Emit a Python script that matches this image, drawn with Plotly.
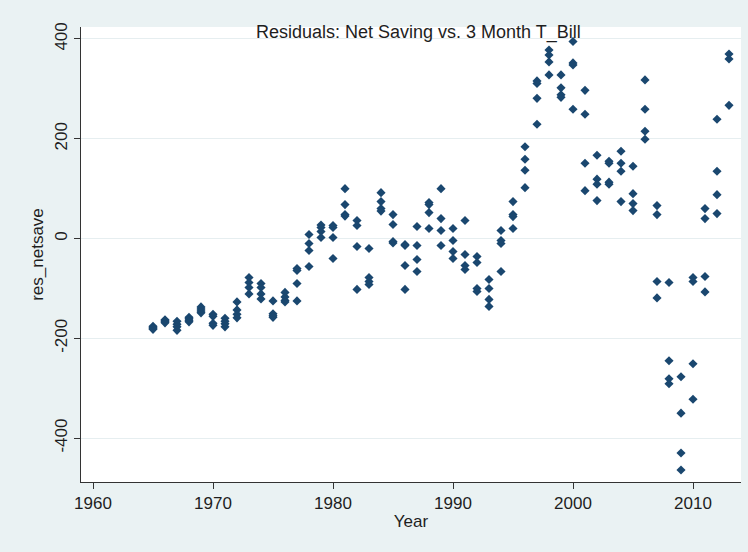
import plotly.graph_objects as go

# Quarterly residuals from the net saving regression, grouped by year
year = (
    [1965] * 4 + [1966] * 4 + [1967] * 4 + [1968] * 4 + [1969] * 4 +
    [1970] * 4 + [1971] * 4 + [1972] * 4 + [1973] * 4 + [1974] * 4 +
    [1975] * 4 + [1976] * 4 + [1977] * 4 + [1978] * 4 + [1979] * 4 +
    [1980] * 4 + [1981] * 4 + [1982] * 4 + [1983] * 4 + [1984] * 4 +
    [1985] * 4 + [1986] * 4 + [1987] * 4 + [1988] * 4 + [1989] * 4 +
    [1990] * 4 + [1991] * 4 + [1992] * 4 + [1993] * 4 + [1994] * 4 +
    [1995] * 4 + [1996] * 4 + [1997] * 4 + [1998] * 4 + [1999] * 4 +
    [2000] * 4 + [2001] * 4 + [2002] * 4 + [2003] * 4 + [2004] * 4 +
    [2005] * 4 + [2006] * 4 + [2007] * 4 + [2008] * 4 + [2009] * 4 +
    [2010] * 4 + [2011] * 4 + [2012] * 4 + [2013] * 3
)

res_netsave = [
    -176, -178, -180, -182,   # 1965
    -163, -165, -167, -169,   # 1966
    -166, -172, -177, -184,   # 1967
    -158, -161, -164, -167,   # 1968
    -137, -141, -145, -149,   # 1969
    -152, -156, -170, -174,   # 1970
    -160, -166, -171, -177,   # 1971
    -127, -143, -152, -159,   # 1972
    -78, -88, -98, -111,      # 1973
    -90, -98, -111, -121,     # 1974
    -125, -151, -155, -158,   # 1975
    -108, -117, -124, -127,   # 1976
    -60, -64, -90, -125,      # 1977
    8, -10, -24, -56,         # 1978
    27, 22, 14, 2,            # 1979
    26, 22, 2, -40,           # 1980
    100, 68, 48, 45,          # 1981
    36, 26, -16, -102,        # 1982
    -20, -78, -86, -92,       # 1983
    92, 74, 60, 55,           # 1984
    48, 28, -6, -9,           # 1985
    -12, -14, -54, -102,      # 1986
    24, -14, -42, -66,        # 1987
    72, 68, 52, 20,           # 1988
    100, 40, 16, -14,         # 1989
    20, -4, -26, -40,         # 1990
    36, -32, -54, -62,        # 1991
    -36, -48, -100, -106,     # 1992
    -82, -100, -122, -136,    # 1993
    16, -4, -10, -66,         # 1994
    74, 48, 44, 20,           # 1995
    184, 159, 137, 102,       # 1996
    316, 311, 281, 229,       # 1997
    378, 368, 354, 328,       # 1998
    328, 302, 288, 283,       # 1999
    395, 352, 348, 259,       # 2000
    297, 249, 151, 96,        # 2001
    167, 119, 109, 76,        # 2002
    155, 151, 113, 109,       # 2003
    175, 151, 135, 74,        # 2004
    145, 90, 70, 56,          # 2005
    318, 259, 215, 199,       # 2006
    66, 48, -86, -119,        # 2007
    -88, -245, -281, -291,    # 2008
    -277, -350, -430, -464,   # 2009
    -78, -86, -251, -322,     # 2010
    60, 40, -76, -107,        # 2011
    239, 135, 88, 50,         # 2012
    370, 360, 267,            # 2013
]

x_ticks = [1960, 1970, 1980, 1990, 2000, 2010]
y_ticks = [-400, -200, 0, 200, 400]

title_text = "Residuals: Net Saving vs. 3 Month T_Bill"

NAVY = "#1A476F"
BG = "#EAF2F3"
TEXT = "#1e1e1e"
FONT = "Liberation Sans, Arial, sans-serif"

fig = go.Figure(
    go.Scatter(
        x=year,
        y=res_netsave,
        mode="markers",
        marker=dict(symbol="diamond", size=7, color=NAVY, line=dict(width=0)),
        hoverinfo="x+y",
    )
)

fig.update_layout(
    width=748,
    height=552,
    margin=dict(l=81, r=7, t=27, b=70),
    paper_bgcolor=BG,
    plot_bgcolor="white",
    showlegend=False,
    font=dict(family=FONT, size=17, color=TEXT),
    annotations=[
        dict(
            text=title_text,
            xref="paper", yref="paper",
            x=0.511, y=0.988,
            xanchor="center", yanchor="middle",
            showarrow=False,
            font=dict(family=FONT, size=18, color=TEXT),
        )
    ],
)

fig.update_xaxes(
    range=[1959.0, 2014.0],
    tickmode="array",
    tickvals=x_ticks,
    ticktext=[str(t) for t in x_ticks],
    ticks="outside",
    ticklen=6,
    tickcolor="#333",
    showline=True,
    linecolor="#333",
    linewidth=1,
    showgrid=False,
    zeroline=False,
    title=dict(text="Year", standoff=2, font=dict(size=17)),
    tickfont=dict(size=17),
)

fig.update_yaxes(
    range=[-488, 424],
    tickmode="array",
    tickvals=y_ticks,
    ticktext=[str(t) for t in y_ticks],
    tickangle=-90,
    ticks="outside",
    ticklen=6,
    tickcolor="#333",
    showline=True,
    linecolor="#333",
    linewidth=1,
    showgrid=True,
    gridcolor="#E6EEF0",
    gridwidth=1,
    zeroline=False,
    title=dict(text="res_netsave", standoff=4, font=dict(size=17)),
    tickfont=dict(size=17),
)

fig.write_html("out.html")
